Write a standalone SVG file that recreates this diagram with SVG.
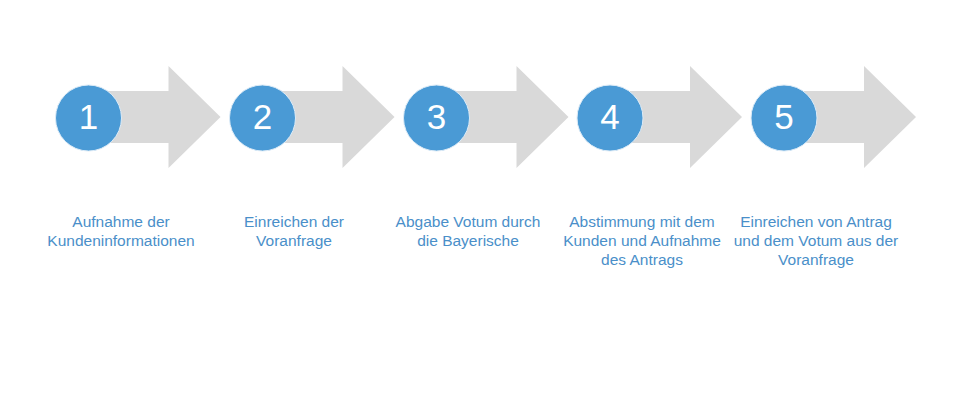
<svg xmlns="http://www.w3.org/2000/svg" width="964" height="401" viewBox="0 0 964 401">
<defs>
<style>
.arrow{fill:#d9d9d9}
.circ{fill:#4a9ad5;stroke:#dcebf7;stroke-width:1}
.num{fill:#ffffff;font-family:"Liberation Sans",Arial,sans-serif;font-size:35px;text-anchor:middle}
.lbl{fill:#4a8fc9;font-family:"Liberation Sans",Arial,sans-serif;font-size:15.5px;text-anchor:middle}
</style>
<path id="arr" d="M0,-26 H80 V-51 L132,0 L80,51 V26 H0 Z"/>
</defs>
<rect width="964" height="401" fill="#ffffff"/>
<g id="connectors">
<use href="#arr" class="arrow" x="88.5" y="117"/>
<use href="#arr" class="arrow" x="262.5" y="117"/>
<use href="#arr" class="arrow" x="436.5" y="117"/>
<use href="#arr" class="arrow" x="610" y="117"/>
<use href="#arr" class="arrow" x="784" y="117"/>
</g>
<g id="step1">
<circle class="circ" cx="88.5" cy="118" r="33"/>
<text class="num" x="88.5" y="129">1</text>
<text class="lbl" x="121" y="227">Aufnahme der</text>
<text class="lbl" x="121" y="246">Kundeninformationen</text>
</g>
<g id="step2">
<circle class="circ" cx="262.5" cy="118" r="33"/>
<text class="num" x="262.5" y="129">2</text>
<text class="lbl" x="294" y="227">Einreichen der</text>
<text class="lbl" x="294" y="246">Voranfrage</text>
</g>
<g id="step3">
<circle class="circ" cx="436.5" cy="118" r="33"/>
<text class="num" x="436.5" y="129">3</text>
<text class="lbl" x="468" y="227">Abgabe Votum durch</text>
<text class="lbl" x="468" y="246">die Bayerische</text>
</g>
<g id="step4">
<circle class="circ" cx="610" cy="118" r="33"/>
<text class="num" x="610" y="129">4</text>
<text class="lbl" x="642" y="227">Abstimmung mit dem</text>
<text class="lbl" x="642" y="246">Kunden und Aufnahme</text>
<text class="lbl" x="642" y="265">des Antrags</text>
</g>
<g id="step5">
<circle class="circ" cx="784" cy="118" r="33"/>
<text class="num" x="784" y="129">5</text>
<text class="lbl" x="816" y="227">Einreichen von Antrag</text>
<text class="lbl" x="816" y="246">und dem Votum aus der</text>
<text class="lbl" x="816" y="265">Voranfrage</text>
</g>
</svg>
